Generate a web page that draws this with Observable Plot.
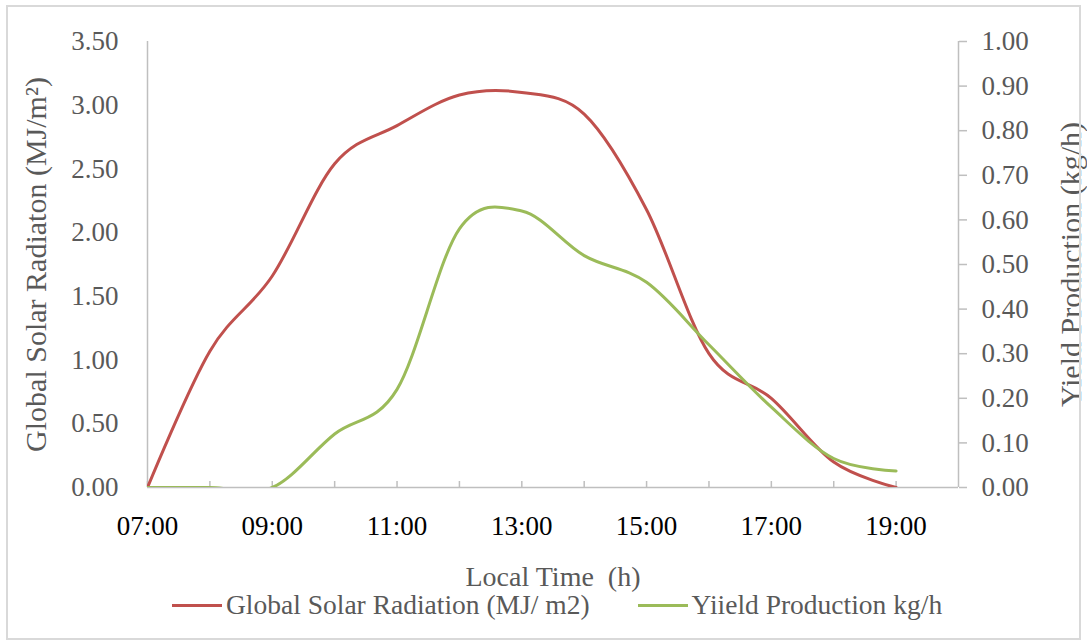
<!DOCTYPE html>
<html>
<head>
<meta charset="utf-8">
<script src="https://cdn.jsdelivr.net/npm/d3@7"></script>
<script src="https://cdn.jsdelivr.net/npm/@observablehq/plot@0.6"></script>
<style>
  html, body { margin: 0; padding: 0; background: #fff; font-family: 'Liberation Serif', serif; }
  #wrap { position: relative; width: 1087px; height: 641px; font-family: 'Liberation Serif', serif; }
  #border { position: absolute; left: 6px; top: 5px; width: 1075px; height: 635px; border: 2px solid #d9d9d9; box-sizing: border-box; pointer-events: none; }
  #chart { position: absolute; left: 0; top: 0; }
  #legend { position: absolute; left: 172px; top: 589px; display: flex; align-items: center; font-family: 'Liberation Serif', serif; font-size: 27.5px; color: #595959; white-space: nowrap; }
  .sw { display: inline-block; width: 50px; height: 3px; margin-right: 4px; }
  svg text { font-family: 'Liberation Serif', serif; }
</style>
</head>
<body>
<div id="wrap">
  <div id="chart"></div>
  <div id="legend"></div>
  <div id="border"></div>
</div>
<script>
// ---- data ----
const hours = [7, 8, 9, 10, 11, 12, 13, 14, 15, 16, 17, 18, 19];
const radiation = [0, 1.07, 1.66, 2.54, 2.84, 3.08, 3.10, 2.93, 2.18, 1.05, 0.70, 0.20, 0.0];
const yieldProd = [0, 0, 0, 0.12, 0.22, 0.58, 0.62, 0.52, 0.46, 0.32, 0.18, 0.065, 0.037];
const xDomain = [7, 20];
const tickHours = [7, 8, 9, 10, 11, 12, 13, 14, 15, 16, 17, 18, 19];
const labelHours = [7, 9, 11, 13, 15, 17, 19];
const leftTicks = [0, 0.5, 1, 1.5, 2, 2.5, 3, 3.5];
const rightTicks = [0, 0.1, 0.2, 0.3, 0.4, 0.5, 0.6, 0.7, 0.8, 0.9, 1.0];
const leftMax = 3.5, rightMax = 1.0;
const seriesNames = ["Global Solar Radiation (MJ/ m2)", "Yiield Production kg/h"];
const seriesColors = ["#C0504D", "#9BBB59"];
const leftTitle = "Global Solar Radiaton (MJ/m²)";
const rightTitle = "Yield Production (kg/h)";
const xTitle = "Local Time  (h)";

const k = leftMax / rightMax;
const table = hours.map((h, i) => ({hour: h, radiation: radiation[i], yield: yieldProd[i]}));

const FF = "Liberation Serif";
const FS = 27;
const TFS = 30;
const plot = Plot.plot({
  width: 1087,
  height: 590,
  marginLeft: 147,
  marginRight: 129,
  marginTop: 41,
  marginBottom: 103,
  x: {domain: xDomain},
  y: {domain: [0, leftMax]},
  style: {background: "transparent", overflow: "visible"},
  marks: [
    Plot.ruleY([0], {stroke: "#bfbfbf", strokeWidth: 1.5}),
    Plot.ruleX(xDomain, {stroke: "#bfbfbf", strokeWidth: 1.5}),
    Plot.tickX(tickHours, {x: d => d, stroke: "#bfbfbf", strokeWidth: 1.5, insetTop: 446 - 6}),
    Plot.axisY(leftTicks, {anchor: "left", tickSize: 0, tickPadding: 29, tickFormat: d => d.toFixed(2), fontFamily: FF, fontSize: FS, fill: "#595959", label: null}),
    Plot.axisY(rightTicks.map(v => v * k), {anchor: "right", tickSize: 8, tickPadding: 15, stroke: "#bfbfbf", strokeWidth: 1.5, tickFormat: d => (d / k).toFixed(2), fontFamily: FF, fontSize: FS, fill: "#595959", label: null}),
    Plot.axisX(labelHours, {anchor: "bottom", tickSize: 0, tickPadding: 28, tickFormat: d => String(d).padStart(2, "0") + ":00", fontFamily: FF, fontSize: FS, fill: "#000", label: null}),
    Plot.line(table, {x: "hour", y: "radiation", curve: "cardinal", tension: 0, stroke: seriesColors[0], strokeWidth: 3, clip: true}),
    Plot.line(table, {x: "hour", y: d => d.yield * k, curve: "cardinal", tension: 0, stroke: seriesColors[1], strokeWidth: 3, clip: true}),
    Plot.text([leftTitle], {frameAnchor: "left", textAnchor: "middle", lineAnchor: "middle", rotate: -90, dx: -111, fontFamily: FF, fontSize: TFS, fill: "#595959"}),
    Plot.text([rightTitle], {frameAnchor: "right", textAnchor: "middle", lineAnchor: "middle", rotate: -90, dx: 113, fontFamily: FF, fontSize: TFS, fill: "#595959"}),
    Plot.text([xTitle], {frameAnchor: "bottom", textAnchor: "middle", lineAnchor: "middle", dy: 90, fontFamily: FF, fontSize: 28, fill: "#595959"})
  ]
});
plot.setAttribute("font-family", FF);
document.getElementById("chart").appendChild(plot);

const legend = document.getElementById("legend");
seriesNames.forEach((name, i) => {
  const item = document.createElement("span");
  item.style.display = "inline-flex";
  item.style.alignItems = "center";
  item.style.fontFamily = FF;
  if (i > 0) item.style.marginLeft = "48px";
  const sw = document.createElement("span");
  sw.className = "sw";
  sw.style.background = seriesColors[i];
  const t = document.createElement("span");
  t.textContent = name;
  item.appendChild(sw);
  item.appendChild(t);
  legend.appendChild(item);
});
</script>
</body>
</html>
